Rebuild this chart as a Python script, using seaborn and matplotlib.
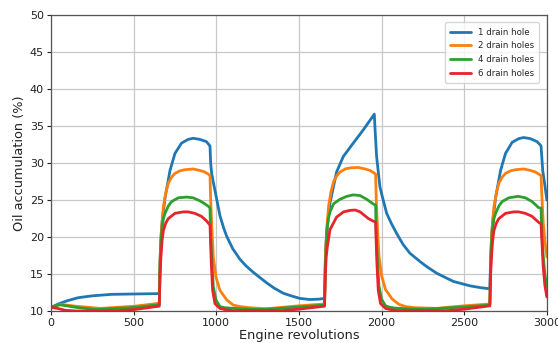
import numpy as np
import pandas as pd
import matplotlib
matplotlib.use("Agg")
import matplotlib.pyplot as plt
import seaborn as sns

labels = ["1 drain hole", "2 drain holes", "4 drain holes", "6 drain holes"]
colors = ["#1f77b4", "#ff7f0e", "#2ca02c", "#e8232a"]

# 1 drain hole
rev_1 = [0, 50, 100, 165, 250, 367, 500, 655,
         660, 665, 672, 690, 720, 750, 790, 830, 860, 900, 940, 955, 962,
         966, 972, 982, 1000, 1022, 1045, 1063, 1100, 1143, 1180, 1220, 1254, 1305, 1350, 1405, 1460, 1506, 1567, 1620, 1655,
         1660, 1665, 1672, 1688, 1728, 1769, 1829, 1890, 1956,
         1962, 1970, 1990, 2003, 2031, 2060, 2091, 2130, 2172, 2232, 2273, 2334, 2434, 2535, 2600, 2655,
         2660, 2665, 2672, 2690, 2720, 2750, 2790, 2830, 2860, 2900, 2940, 2958, 2965,
         2975, 2988, 3000]
oil_1 = [10.5, 11.0, 11.4, 11.8, 12.05, 12.25, 12.3, 12.35,
         17.0, 19.8, 22.0, 25.3, 29.0, 31.3, 32.7, 33.2, 33.35, 33.2, 32.9, 32.5, 32.3,
         30.0, 28.6, 27.4, 25.4, 22.9, 21.2, 20.1, 18.4, 17.0, 16.1, 15.3, 14.7, 13.8, 13.1, 12.4, 12.0, 11.7, 11.55, 11.6, 11.7,
         17.0, 19.5, 21.6, 24.6, 28.8, 30.9, 32.7, 34.5, 36.6,
         34.0, 30.9, 26.8, 25.6, 23.2, 21.8, 20.5, 19.0, 17.8, 16.7, 16.0, 15.1, 14.0, 13.4, 13.15, 13.0,
         17.0, 19.8, 22.0, 25.3, 29.0, 31.3, 32.8, 33.3, 33.45, 33.3, 32.9, 32.5, 32.3,
         29.0, 27.0, 25.0]

# 2 drain holes
rev_2 = [0, 60, 150, 300, 400, 508, 655,
         660, 668, 680, 695, 710, 730, 750, 780, 811, 861, 900, 930, 955, 962,
         966, 974, 982, 998, 1022, 1063, 1103, 1143, 1200, 1300, 1400, 1500, 1655,
         1660, 1668, 1680, 1695, 1710, 1730, 1750, 1780, 1811, 1859, 1900, 1930, 1955, 1964,
         1968, 1976, 1984, 2000, 2024, 2065, 2105, 2145, 2200, 2334, 2400, 2500, 2655,
         2660, 2668, 2680, 2695, 2710, 2730, 2750, 2780, 2811, 2861, 2900, 2930, 2955, 2965,
         2970, 2978, 2988, 3000]
oil_2 = [10.5, 10.9, 10.65, 10.35, 10.5, 10.65, 11.05,
         17.0, 21.0, 24.1, 26.0, 27.3, 28.1, 28.6, 28.95, 29.1, 29.2, 29.0, 28.8, 28.45, 28.3,
         25.0, 20.9, 17.3, 14.6, 12.8, 11.5, 10.8, 10.6, 10.45, 10.3, 10.5, 10.7, 10.95,
         17.0, 21.0, 24.3, 26.2, 27.5, 28.3, 28.8, 29.2, 29.35, 29.4, 29.2, 29.0, 28.65, 28.5,
         25.0, 20.9, 17.5, 14.8, 12.9, 11.6, 10.9, 10.6, 10.45, 10.35, 10.5, 10.7, 10.95,
         17.0, 21.0, 24.1, 26.0, 27.3, 28.1, 28.6, 28.95, 29.1, 29.2, 29.0, 28.8, 28.45, 28.3,
         25.5, 22.0, 19.5, 17.3]

# 4 drain holes
rev_4 = [0, 50, 150, 266, 350, 488, 655,
         660, 665, 670, 680, 690, 710, 730, 770, 821, 860, 900, 930, 955, 962,
         966, 974, 982, 998, 1022, 1050, 1080, 1150, 1250, 1350, 1500, 1655,
         1660, 1665, 1670, 1680, 1690, 1710, 1748, 1790, 1829, 1870, 1910, 1935, 1955, 1964,
         1968, 1976, 1984, 2000, 2024, 2050, 2080, 2150, 2250, 2350, 2500, 2655,
         2660, 2665, 2670, 2680, 2690, 2710, 2730, 2770, 2827, 2870, 2910, 2935, 2948, 2965,
         2970, 2978, 2988, 3000]
oil_4 = [10.5, 10.85, 10.5, 10.2, 10.3, 10.45, 10.85,
         16.0, 19.0, 20.8, 22.5, 23.2, 24.2, 24.8, 25.3, 25.4, 25.3, 24.9, 24.5, 24.1, 23.9,
         20.0, 16.4, 13.3, 11.5, 10.6, 10.45, 10.4, 10.3, 10.2, 10.3, 10.55, 10.8,
         16.0, 19.0, 21.0, 22.7, 23.5, 24.5, 25.1, 25.5, 25.7, 25.6, 25.1, 24.7, 24.4, 24.3,
         20.0, 16.4, 13.4, 11.6, 10.7, 10.5, 10.4, 10.3, 10.25, 10.35, 10.55, 10.8,
         16.0, 19.0, 20.8, 22.5, 23.2, 24.2, 24.8, 25.3, 25.5, 25.3, 24.8, 24.3, 24.0, 23.9,
         20.5, 17.5, 15.0, 13.3]

# 6 drain holes
rev_6 = [0, 40, 85, 150, 300, 400, 488, 655,
         660, 665, 672, 680, 695, 710, 750, 800, 830, 870, 910, 940, 955, 962,
         966, 970, 978, 992, 1022, 1060, 1100, 1400, 1500, 1655,
         1660, 1665, 1672, 1688, 1728, 1770, 1809, 1840, 1870, 1920, 1945, 1955, 1964,
         1968, 1972, 1980, 1994, 2024, 2062, 2100, 2400, 2500, 2655,
         2660, 2665, 2672, 2680, 2695, 2710, 2750, 2800, 2830, 2870, 2910, 2940, 2955, 2965,
         2970, 2978, 2988, 3000]
oil_6 = [10.5, 10.35, 10.1, 10.0, 10.0, 10.05, 10.15, 10.65,
         15.0, 17.3, 19.5, 20.9, 21.9, 22.5, 23.2, 23.4, 23.4, 23.2, 22.8, 22.2, 21.8, 21.6,
         19.0, 16.4, 12.8, 11.0, 10.35, 10.15, 10.05, 10.05, 10.25, 10.65,
         15.0, 17.3, 18.7, 21.0, 22.7, 23.4, 23.6, 23.65, 23.4, 22.5, 22.2, 22.1, 22.0,
         19.0, 16.4, 12.8, 11.0, 10.35, 10.15, 10.05, 10.05, 10.25, 10.7,
         15.0, 17.3, 19.5, 20.9, 21.9, 22.5, 23.2, 23.4, 23.4, 23.2, 22.8, 22.2, 21.9, 21.8,
         19.5, 16.0, 13.5, 11.9]

frames = []
for lab, r, o in zip(labels, [rev_1, rev_2, rev_4, rev_6], [oil_1, oil_2, oil_4, oil_6]):
    frames.append(pd.DataFrame({"rev": r, "oil": o, "series": lab}))
df = pd.concat(frames, ignore_index=True)

sns.set_theme(style="ticks")
plt.rcParams["font.family"] = ["DejaVu Sans"]

fig = plt.figure(figsize=(5.58, 3.43), dpi=100)
ax = fig.add_axes([0.0914, 0.0933, 0.8886, 0.8627])

sns.lineplot(data=df, x="rev", y="oil", hue="series", hue_order=labels,
             palette=colors, estimator=None, sort=False, linewidth=2.0, ax=ax)

ax.set_xlim(0, 3000)
ax.set_ylim(10, 50)
ax.set_xticks(np.arange(0, 3001, 500))
ax.set_yticks(np.arange(10, 51, 5))
ax.grid(True, color="#c8c8c8", linewidth=0.9)
ax.set_axisbelow(True)
for s in ax.spines.values():
    s.set_color("#555555")
    s.set_linewidth(0.9)
ax.tick_params(labelsize=8, colors="#222222", length=3, width=0.8, pad=2)
ax.set_xlabel("Engine revolutions", fontsize=9.3, color="#222222", labelpad=1)
ax.set_ylabel("Oil accumulation (%)", fontsize=9.3, color="#222222", labelpad=3)

handles, labs = ax.get_legend_handles_labels()
leg = ax.legend(handles, labs, loc="upper right", fontsize=6.2, frameon=True,
                handlelength=2.4, borderpad=0.6, labelspacing=0.55,
                bbox_to_anchor=(0.993, 0.99))
leg.get_frame().set_edgecolor("#cccccc")
for h in leg.get_lines():
    h.set_linewidth(2.0)

fig.savefig("out.png", dpi=100)
